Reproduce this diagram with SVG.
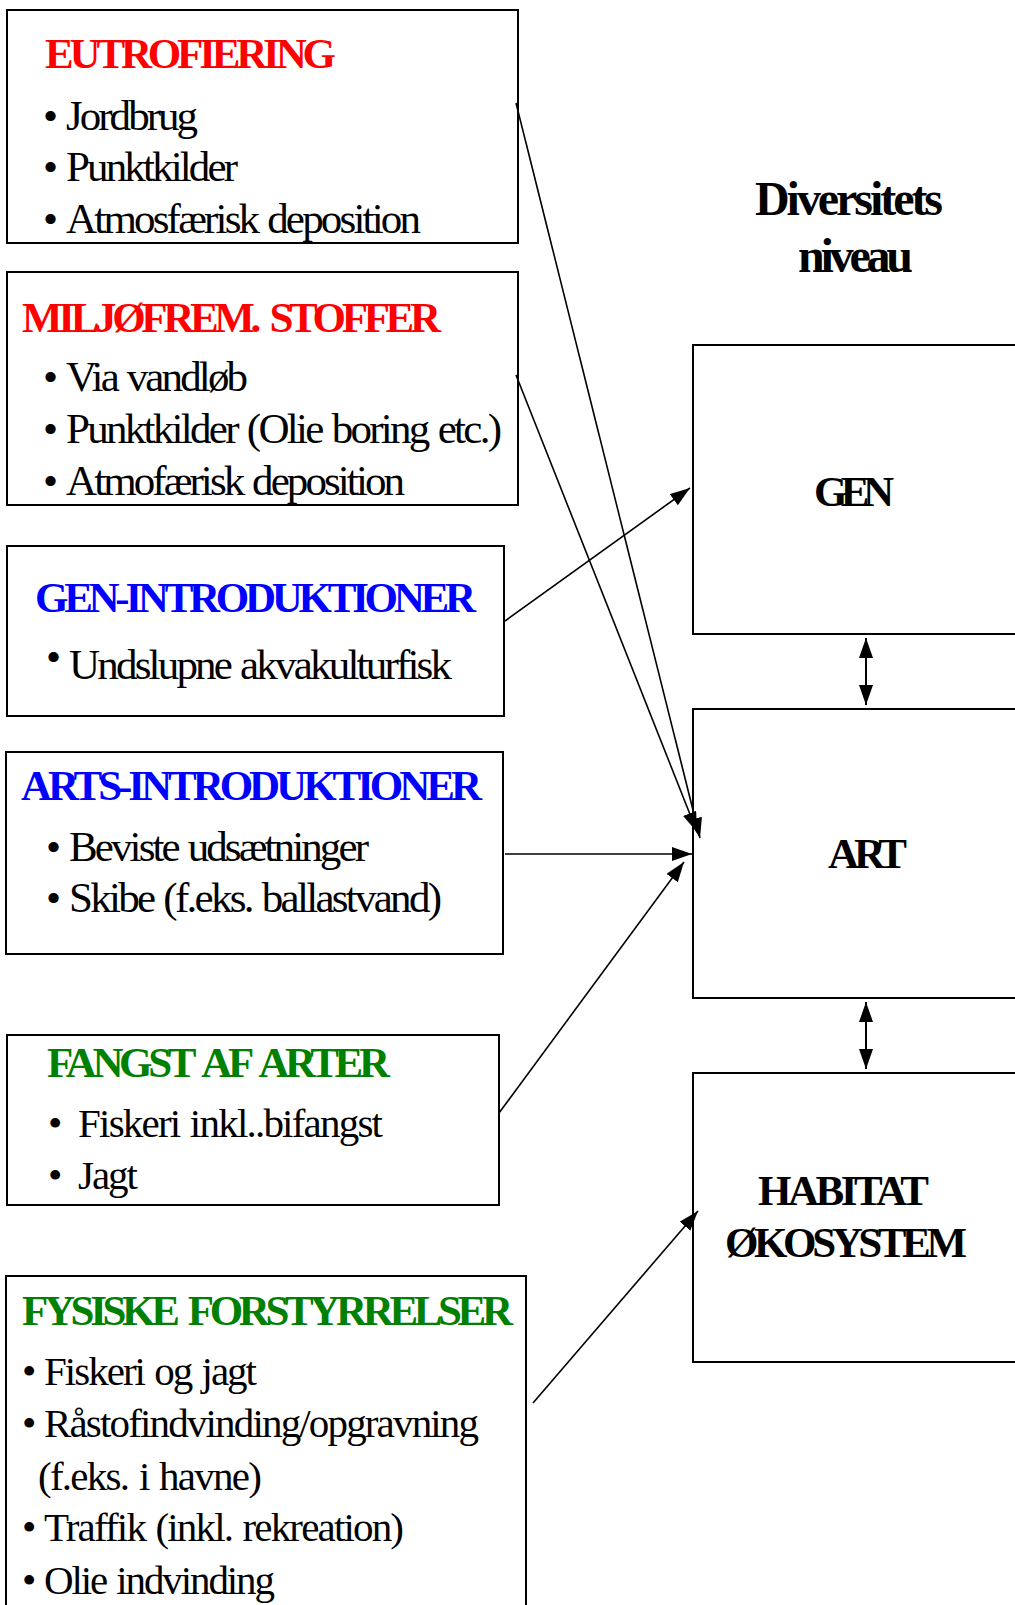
<svg xmlns="http://www.w3.org/2000/svg" width="1015" height="1605" viewBox="0 0 1015 1605">
<style>
.box{fill:#fff;stroke:#000;stroke-width:2}
text{font-family:"Liberation Serif","Times New Roman",serif;fill:#000}
.t{font-weight:bold;font-size:43px;word-spacing:6px}
.b{font-size:43px;word-spacing:2px}
.s{font-size:41px;word-spacing:2px}
.red{fill:#FF0000}.blue{fill:#0000FF}.green{fill:#008000}
.lvl{font-weight:bold;font-size:43px}
.con{stroke:#000;stroke-width:1.6;fill:none}
</style>
<defs>
<marker id="ah" markerUnits="userSpaceOnUse" markerWidth="22" markerHeight="16" refX="20" refY="7" orient="auto-start-reverse">
<path d="M0,0 L20,7 L0,14 z" fill="#000"/>
</marker>
</defs>

<g id="eutrofiering">
<rect class="box" x="7" y="10" width="511" height="233"/>
<text class="t red" x="45" y="68" textLength="291">EUTROFIERING</text>
<text class="b" x="43" y="130">•</text><text class="b" x="66" y="130" textLength="132">Jordbrug</text>
<text class="b" x="43" y="181">•</text><text class="b" x="66" y="181" textLength="172">Punktkilder</text>
<text class="b" x="43" y="233">•</text><text class="b" x="66" y="233" textLength="355">Atmosfærisk deposition</text>
</g>

<g id="miljofrem">
<rect class="box" x="7" y="272" width="511" height="233"/>
<text class="t red" x="22" y="332" textLength="419">MILJØFREM. STOFFER</text>
<text class="b" x="43" y="391">•</text><text class="b" x="66" y="391" textLength="182">Via vandløb</text>
<text class="b" x="43" y="443">•</text><text class="b" x="66" y="443" textLength="436">Punktkilder (Olie boring etc.)</text>
<text class="b" x="43" y="495">•</text><text class="b" x="66" y="495" textLength="339">Atmofærisk deposition</text>
</g>

<g id="gen-intro">
<rect class="box" x="7" y="546" width="497" height="170"/>
<text class="t blue" x="35" y="612" textLength="441">GEN-INTRODUKTIONER</text>
<text class="b" x="46" y="671">•</text><text class="b" x="69" y="679" textLength="383">Undslupne akvakulturfisk</text>
</g>

<g id="arts-intro">
<rect class="box" x="6" y="752" width="497" height="202"/>
<text class="t blue" x="21" y="800" textLength="461">ARTS-INTRODUKTIONER</text>
<text class="b" x="46" y="861">•</text><text class="b" x="69" y="861" textLength="300">Beviste udsætninger</text>
<text class="b" x="46" y="912">•</text><text class="b" x="69" y="912" textLength="373">Skibe (f.eks. ballastvand)</text>
</g>

<g id="fangst">
<rect class="box" x="7" y="1035" width="492" height="170"/>
<text class="t green" x="47" y="1077" textLength="343">FANGST AF ARTER</text>
<text class="s" x="48" y="1137">•</text><text class="s" x="78" y="1137" textLength="305">Fiskeri inkl..bifangst</text>
<text class="s" x="48" y="1189">•</text><text class="s" x="78" y="1189" textLength="60">Jagt</text>
</g>

<g id="fysiske">
<rect class="box" x="6" y="1276" width="520" height="340"/>
<text class="t green" x="22" y="1325" textLength="491">FYSISKE FORSTYRRELSER</text>
<text class="s" x="22" y="1385">•</text><text class="s" x="44" y="1385" textLength="213">Fiskeri og jagt</text>
<text class="s" x="22" y="1437">•</text><text class="s" x="44" y="1437" textLength="435">Råstofindvinding/opgravning</text>
<text class="s" x="38" y="1490" textLength="224">(f.eks. i havne)</text>
<text class="s" x="22" y="1541">•</text><text class="s" x="44" y="1541" textLength="360">Traffik (inkl. rekreation)</text>
<text class="s" x="22" y="1594">•</text><text class="s" x="44" y="1594" textLength="231">Olie indvinding</text>
</g>

<g id="diversitets-label">
<text class="lvl" style="font-size:48px" x="755" y="215" textLength="188">Diversitets</text>
<text class="lvl" style="font-size:48px" x="798" y="272" textLength="115">niveau</text>
</g>

<g id="gen">
<rect class="box" x="693" y="345" width="340" height="289"/>
<text class="lvl" x="814" y="506" textLength="80">GEN</text>
</g>

<g id="art">
<rect class="box" x="693" y="709" width="340" height="289"/>
<text class="lvl" x="828" y="868" textLength="79">ART</text>
</g>

<g id="habitat">
<rect class="box" x="693" y="1073" width="340" height="289"/>
<text class="lvl" x="758" y="1205" textLength="171">HABITAT</text>
<text class="lvl" x="725" y="1257" textLength="242">ØKOSYSTEM</text>
</g>

<g id="connectors">
<line class="con" x1="516" y1="103" x2="700" y2="838" marker-end="url(#ah)"/>
<line class="con" x1="516" y1="375" x2="697" y2="832" marker-end="url(#ah)"/>
<line class="con" x1="505" y1="621" x2="690" y2="488" marker-end="url(#ah)"/>
<line class="con" x1="505" y1="854" x2="692" y2="854" marker-end="url(#ah)"/>
<line class="con" x1="499" y1="1113" x2="684" y2="862" marker-end="url(#ah)"/>
<line class="con" x1="533" y1="1403" x2="698" y2="1211" marker-end="url(#ah)"/>
<line class="con" style="stroke-width:2" x1="866" y1="638" x2="866" y2="705" marker-start="url(#ah)" marker-end="url(#ah)"/>
<line class="con" style="stroke-width:2" x1="866" y1="1002" x2="866" y2="1069" marker-start="url(#ah)" marker-end="url(#ah)"/>
</g>
</svg>
